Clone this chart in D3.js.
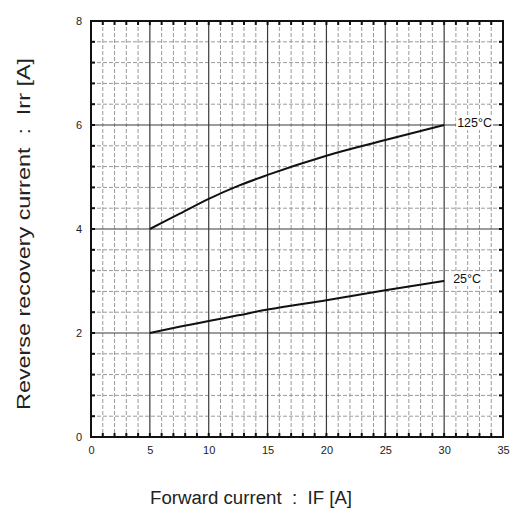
<!DOCTYPE html>
<html>
<head>
<meta charset="utf-8">
<script src="https://cdn.jsdelivr.net/npm/d3@7"></script>
<style>
  html, body { margin: 0; padding: 0; background: #fff; }
  svg { display: block; }
</style>
</head>
<body>
<svg id="chart" width="515" height="516"></svg>
<script>
// Forward current IF [A] sample points
const forwardCurrent = [5, 7.5, 10, 12.5, 15, 20, 25, 30];
// Reverse recovery current Irr [A] per junction temperature
const irr125 = [4.0, 4.29, 4.58, 4.83, 5.04, 5.41, 5.71, 6.0];
const irr25 = [2.0, 2.12, 2.23, 2.34, 2.45, 2.63, 2.82, 3.0];
const seriesLabels = ["125°C", "25°C"];

const xTicks = [0, 5, 10, 15, 20, 25, 30, 35];
const yTicks = [0, 2, 4, 6, 8];
const xMinorStep = 1;
const yMinorStep = 0.4;

const xTitle = "Forward current \u00a0:\u00a0 IF [A]";
const yTitle = "Reverse recovery current \u00a0:\u00a0 Irr [A]";

const svg = d3.select("#chart");
const m = { left: 91, right: 503, top: 21, bottom: 437 };

const x = d3.scaleLinear().domain([0, 35]).range([m.left, m.right]);
const y = d3.scaleLinear().domain([0, 8]).range([m.bottom, m.top]);

const minorX = d3.range(0, 35 + 1e-9, xMinorStep).filter(v => v > 0 && v < 35 && v % 5 !== 0);
const minorY = d3.range(0, 8 + 1e-9, yMinorStep).map(v => +v.toFixed(1))
  .filter(v => v > 0 && v < 8 && Math.abs(v / 2 - Math.round(v / 2)) > 1e-6);
const majorX = xTicks.filter(v => v > 0 && v < 35);
const majorY = yTicks.filter(v => v > 0 && v < 8);

const grid = svg.append("g");
// minor grid (dashed)
grid.selectAll(".mx").data(minorX).join("line")
  .attr("x1", d => x(d)).attr("x2", d => x(d))
  .attr("y1", m.top).attr("y2", m.bottom)
  .attr("stroke", "#9a9a9a").attr("stroke-width", 1).attr("stroke-dasharray", "4,2");
grid.selectAll(".my").data(minorY).join("line")
  .attr("y1", d => y(d)).attr("y2", d => y(d))
  .attr("x1", m.left).attr("x2", m.right)
  .attr("stroke", "#9a9a9a").attr("stroke-width", 1).attr("stroke-dasharray", "4,2");
// major grid (solid)
grid.selectAll(".Mx").data(majorX).join("line")
  .attr("x1", d => x(d)).attr("x2", d => x(d))
  .attr("y1", m.top).attr("y2", m.bottom)
  .attr("stroke", "#3a3a3a").attr("stroke-width", 1.2);
grid.selectAll(".My").data(majorY).join("line")
  .attr("y1", d => y(d)).attr("y2", d => y(d))
  .attr("x1", m.left).attr("x2", m.right)
  .attr("stroke", "#3a3a3a").attr("stroke-width", 1.2);

// inward tick marks on all four sides, at every grid position
const allX = d3.range(1, 35);
const allY = d3.range(1, 20).map(i => +(i * yMinorStep).toFixed(1));
const tk = 4;
const ticks = svg.append("g").attr("stroke", "#111").attr("stroke-width", 2);
ticks.selectAll(".tb").data(allX).join("line")
  .attr("x1", d => x(d)).attr("x2", d => x(d)).attr("y1", m.bottom).attr("y2", m.bottom - tk);
ticks.selectAll(".tt").data(allX).join("line")
  .attr("x1", d => x(d)).attr("x2", d => x(d)).attr("y1", m.top).attr("y2", m.top + tk);
ticks.selectAll(".tl").data(allY).join("line")
  .attr("y1", d => y(d)).attr("y2", d => y(d)).attr("x1", m.left).attr("x2", m.left + tk);
ticks.selectAll(".tr").data(allY).join("line")
  .attr("y1", d => y(d)).attr("y2", d => y(d)).attr("x1", m.right).attr("x2", m.right - tk);

// frame
svg.append("rect")
  .attr("x", m.left).attr("y", m.top)
  .attr("width", m.right - m.left).attr("height", m.bottom - m.top)
  .attr("fill", "none").attr("stroke", "#111").attr("stroke-width", 2);

// axis tick labels
const xAxis = d3.axisBottom(x).tickValues(xTicks).tickSize(0).tickPadding(9);
const gx = svg.append("g").attr("transform", `translate(0,${m.bottom})`).call(xAxis);
gx.select(".domain").remove();
gx.selectAll("text").attr("font-family", "Liberation Sans, Arial, sans-serif")
  .attr("font-size", 11).attr("fill", "#222");

const yAxis = d3.axisLeft(y).tickValues(yTicks).tickSize(0).tickPadding(9);
const gy = svg.append("g").attr("transform", `translate(${m.left},0)`).call(yAxis);
gy.select(".domain").remove();
gy.selectAll("text").attr("font-family", "Liberation Sans, Arial, sans-serif")
  .attr("font-size", 11).attr("fill", "#222");

// curves
const line = d3.line()
  .x((d, i) => x(forwardCurrent[i]))
  .y(d => y(d))
  .curve(d3.curveMonotoneX);
[irr125, irr25].forEach(s => {
  svg.append("path").datum(s)
    .attr("d", line)
    .attr("fill", "none").attr("stroke", "#111").attr("stroke-width", 2);
});

// curve labels with white backing
const labelData = [
  { text: seriesLabels[0], v: irr125[irr125.length - 1], dx: 13 },
  { text: seriesLabels[1], v: irr25[irr25.length - 1], dx: 9 }
];
labelData.forEach(d => {
  const lx = x(forwardCurrent[forwardCurrent.length - 1]) + d.dx;
  const ly = y(d.v) + 2;
  const t = svg.append("text")
    .attr("x", lx).attr("y", ly)
    .attr("font-family", "Liberation Sans Narrow, Arial Narrow, Liberation Sans, sans-serif")
    .attr("font-stretch", "condensed")
    .attr("font-size", 12.5).attr("fill", "#111")
    .text(d.text);
  const bb = t.node().getBBox();
  svg.insert("rect", () => t.node())
    .attr("x", bb.x - 1).attr("y", bb.y)
    .attr("width", bb.width + 2).attr("height", bb.height)
    .attr("fill", "#fff");
});

// axis titles
svg.append("text")
  .attr("x", 150).attr("y", 504)
  .attr("font-family", "Liberation Sans, Arial, sans-serif")
  .attr("font-size", 18).attr("fill", "#222")
  .attr("textLength", 202).attr("lengthAdjust", "spacingAndGlyphs")
  .text(xTitle);

svg.append("text")
  .attr("transform", `translate(30,410) rotate(-90)`)
  .attr("font-family", "Liberation Sans, Arial, sans-serif")
  .attr("font-size", 19).attr("fill", "#222")
  .attr("textLength", 352).attr("lengthAdjust", "spacingAndGlyphs")
  .text(yTitle);
</script>
</body>
</html>
